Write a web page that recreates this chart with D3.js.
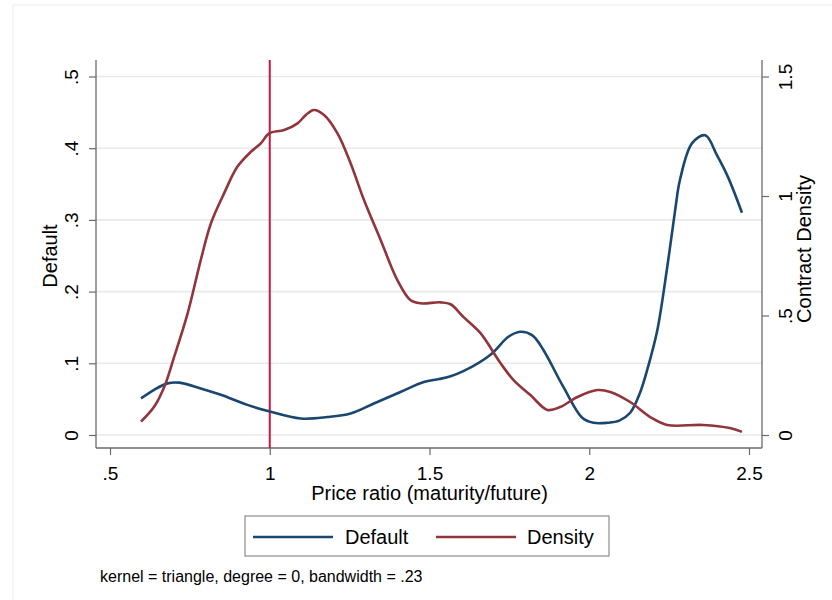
<!DOCTYPE html>
<html>
<head>
<meta charset="utf-8">
<script src="https://cdn.jsdelivr.net/npm/d3@7/dist/d3.min.js"></script>
<style>
  html, body { margin: 0; padding: 0; background: #fff; }
  text { font-family: "Liberation Sans", Arial, sans-serif; fill: #000; }
</style>
</head>
<body>
<svg id="chart" width="832" height="600"></svg>
<script>
// ---- data ----
const defaultX = [0.597, 0.638, 0.680, 0.717, 0.784, 0.847, 0.930, 0.998, 1.097, 1.180, 1.253, 1.326, 1.409, 1.482, 1.530, 1.566, 1.606, 1.691, 1.747, 1.784, 1.822, 1.856, 1.919, 1.978, 2.013, 2.056, 2.094, 2.128, 2.159, 2.184, 2.213, 2.244, 2.269, 2.284, 2.322, 2.363, 2.400, 2.434, 2.478];
const defaultY = [0.051, 0.063, 0.072, 0.073, 0.065, 0.056, 0.042, 0.033, 0.023, 0.025, 0.030, 0.044, 0.060, 0.074, 0.078, 0.082, 0.089, 0.112, 0.137, 0.144, 0.139, 0.119, 0.067, 0.024, 0.017, 0.017, 0.020, 0.031, 0.059, 0.095, 0.146, 0.234, 0.314, 0.356, 0.407, 0.418, 0.390, 0.360, 0.310];

const densityX = [0.597, 0.638, 0.670, 0.701, 0.743, 0.784, 0.816, 0.857, 0.899, 0.941, 0.972, 0.998, 1.045, 1.087, 1.113, 1.138, 1.170, 1.212, 1.253, 1.295, 1.347, 1.399, 1.440, 1.472, 1.534, 1.566, 1.606, 1.659, 1.722, 1.763, 1.816, 1.869, 1.909, 1.963, 2.025, 2.066, 2.128, 2.191, 2.244, 2.356, 2.440, 2.478];
const densityY = [0.056, 0.118, 0.202, 0.328, 0.509, 0.732, 0.886, 1.011, 1.123, 1.185, 1.220, 1.262, 1.276, 1.304, 1.339, 1.360, 1.339, 1.262, 1.137, 0.983, 0.816, 0.649, 0.565, 0.551, 0.555, 0.547, 0.494, 0.427, 0.301, 0.230, 0.167, 0.105, 0.117, 0.159, 0.188, 0.180, 0.138, 0.075, 0.042, 0.042, 0.029, 0.013];

const xTicks = [0.5, 1, 1.5, 2, 2.5];
const xTickLabels = [".5", "1", "1.5", "2", "2.5"];
const leftTicks = [0, 0.1, 0.2, 0.3, 0.4, 0.5];
const leftTickLabels = ["0", ".1", ".2", ".3", ".4", ".5"];
const rightTicks = [0, 0.5, 1, 1.5];
const rightTickLabels = ["0", ".5", "1", "1.5"];
const refLineX = 1;
const seriesNames = ["Default", "Density"];
const xTitle = "Price ratio (maturity/future)";
const yLeftTitle = "Default";
const yRightTitle = "Contract Density";
const note = "kernel = triangle, degree = 0, bandwidth = .23";

// ---- layout ----
const plotLeft = 96, plotRight = 762, plotTop = 60, plotBottom = 448;
const colBlue = "#1a476f", colRed = "#90353b", colRef = "#cc1440";
const axisCol = "#6a6a6a";

const svg = d3.select("#chart");

// faint outer frame
svg.append("rect").attr("x", 13).attr("y", 5).attr("width", 900).attr("height", 700)
  .attr("fill", "none").attr("stroke", "#eeeeee").attr("stroke-width", 1);

const x = d3.scaleLinear().domain([0.5, 2.5]).range([110, 749]);
const yL = d3.scaleLinear().domain([0, 0.5]).range([435, 76.5]);
const yR = d3.scaleLinear().domain([0, 1.5]).range([435, 76.5]);

// gridlines
svg.append("g").selectAll("line").data(leftTicks).join("line")
  .attr("x1", plotLeft).attr("x2", plotRight)
  .attr("y1", d => yL(d)).attr("y2", d => yL(d))
  .attr("stroke", "#e9e9e9").attr("stroke-width", 1.6);

// axes lines
svg.append("line").attr("x1", plotLeft).attr("x2", plotLeft).attr("y1", plotTop).attr("y2", plotBottom)
  .attr("stroke", axisCol).attr("stroke-width", 1.3);
svg.append("line").attr("x1", plotRight).attr("x2", plotRight).attr("y1", plotTop).attr("y2", plotBottom)
  .attr("stroke", axisCol).attr("stroke-width", 1.3);
svg.append("line").attr("x1", plotLeft).attr("x2", plotRight).attr("y1", plotBottom).attr("y2", plotBottom)
  .attr("stroke", axisCol).attr("stroke-width", 1.3);

// left axis
const gL = svg.append("g").attr("transform", `translate(${plotLeft},0)`)
  .call(d3.axisLeft(yL).tickValues(leftTicks).tickSize(7).tickFormat((d, i) => leftTickLabels[i]));
gL.select(".domain").remove();
gL.selectAll(".tick line").attr("stroke", axisCol).attr("stroke-width", 1.2);
gL.selectAll(".tick text")
  .attr("x", null).attr("dy", null).attr("y", null)
  .attr("text-anchor", "middle")
  .attr("transform", "translate(-18,0) rotate(-90)")
  .style("font-size", "19px").style("font-family", "Liberation Sans, Arial, sans-serif").attr("fill", "#000");

// right axis
const gR = svg.append("g").attr("transform", `translate(${plotRight},0)`)
  .call(d3.axisRight(yR).tickValues(rightTicks).tickSize(7).tickFormat((d, i) => rightTickLabels[i]));
gR.select(".domain").remove();
gR.selectAll(".tick line").attr("stroke", axisCol).attr("stroke-width", 1.2);
gR.selectAll(".tick text")
  .attr("x", null).attr("dy", null).attr("y", null)
  .attr("text-anchor", "middle")
  .attr("transform", "translate(30,0) rotate(-90)")
  .style("font-size", "19px").style("font-family", "Liberation Sans, Arial, sans-serif").attr("fill", "#000");

// bottom axis
const gB = svg.append("g").attr("transform", `translate(0,${plotBottom})`)
  .call(d3.axisBottom(x).tickValues(xTicks).tickSize(7).tickFormat((d, i) => xTickLabels[i]));
gB.select(".domain").remove();
gB.selectAll(".tick line").attr("stroke", axisCol).attr("stroke-width", 1.2);
gB.selectAll(".tick text").attr("y", 32).attr("dy", null)
  .style("font-size", "19px").style("font-family", "Liberation Sans, Arial, sans-serif").attr("fill", "#000");

// reference line
svg.append("line").attr("x1", x(refLineX)).attr("x2", x(refLineX))
  .attr("y1", plotTop).attr("y2", plotBottom)
  .attr("stroke", colRef).attr("stroke-width", 2);

// curves
const defData = defaultX.map((v, i) => [v, defaultY[i]]);
const denData = densityX.map((v, i) => [v, densityY[i]]);
svg.append("path").datum(defData)
  .attr("d", d3.line().x(d => x(d[0])).y(d => yL(d[1])).curve(d3.curveCatmullRom.alpha(0.5)))
  .attr("fill", "none").attr("stroke", colBlue).attr("stroke-width", 2.6).attr("stroke-linejoin", "round");
svg.append("path").datum(denData)
  .attr("d", d3.line().x(d => x(d[0])).y(d => yR(d[1])).curve(d3.curveCatmullRom.alpha(0.5)))
  .attr("fill", "none").attr("stroke", colRed).attr("stroke-width", 2.6).attr("stroke-linejoin", "round");

// titles
svg.append("text").attr("x", (x(0.5) + x(2.5)) / 2).attr("y", 500).attr("text-anchor", "middle")
  .style("font-size", "20px").text(xTitle);
svg.append("text").attr("transform", `translate(57,${(plotTop + plotBottom) / 2 + 2}) rotate(-90)`)
  .attr("text-anchor", "middle").style("font-size", "20px").text(yLeftTitle);
svg.append("text").attr("transform", `translate(811,${(plotTop + plotBottom) / 2 - 5}) rotate(-90)`)
  .attr("text-anchor", "middle").style("font-size", "20px").text(yRightTitle);

// legend
const lg = svg.append("g");
lg.append("rect").attr("x", 245).attr("y", 516).attr("width", 364).attr("height", 40)
  .attr("fill", "#fff").attr("stroke", "#777").attr("stroke-width", 1);
const legendItems = [
  { name: seriesNames[0], color: colBlue, lx: 253, tx: 345 },
  { name: seriesNames[1], color: colRed, lx: 436, tx: 527 }
];
legendItems.forEach(it => {
  lg.append("line").attr("x1", it.lx).attr("x2", it.lx + 80).attr("y1", 537).attr("y2", 537)
    .attr("stroke", it.color).attr("stroke-width", 2.6);
  lg.append("text").attr("x", it.tx).attr("y", 544).style("font-size", "20px").text(it.name);
});

// note
svg.append("text").attr("x", 100).attr("y", 582).style("font-size", "16px").text(note);
</script>
</body>
</html>
